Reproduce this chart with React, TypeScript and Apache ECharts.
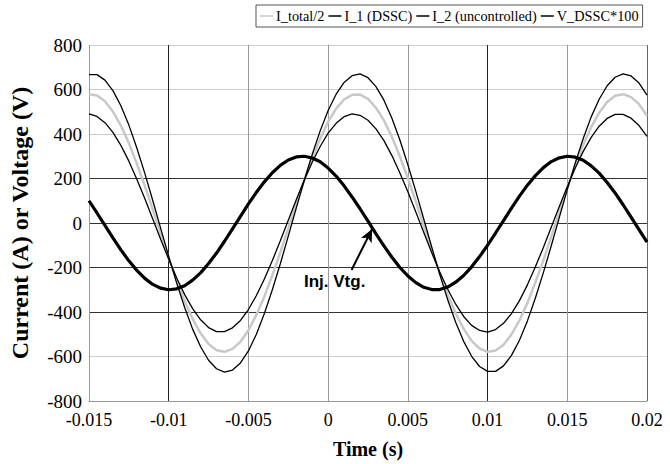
import React, { useEffect, useRef } from 'react';
import * as echarts from 'echarts';

// Time samples (s)
const TIME = [
  -0.015, -0.0145, -0.014, -0.0135, -0.013, -0.0125, -0.012, -0.0115, -0.011, -0.0105,
  -0.01, -0.0095, -0.009, -0.0085, -0.008, -0.0075, -0.007, -0.0065, -0.006, -0.0055,
  -0.005, -0.0045, -0.004, -0.0035, -0.003, -0.0025, -0.002, -0.0015, -0.001, -0.0005,
  0, 0.0005, 0.001, 0.0015, 0.002, 0.0025, 0.003, 0.0035, 0.004, 0.0045,
  0.005, 0.0055, 0.006, 0.0065, 0.007, 0.0075, 0.008, 0.0085, 0.009, 0.0095,
  0.01, 0.0105, 0.011, 0.0115, 0.012, 0.0125, 0.013, 0.0135, 0.014, 0.0145,
  0.015, 0.0155, 0.016, 0.0165, 0.017, 0.0175, 0.018, 0.0185, 0.019, 0.0195,
  0.02,
];

// I_total/2 (A)
const I_TOTAL_HALF = [
  579, 573, 547, 501, 438, 359, 267, 167, 60, -50,
  -157, -259, -351, -431, -496, -544, -572, -579, -566, -534,
  -482, -413, -330, -235, -132, -24, 86, 192, 291, 379,
  455, 514, 555, 576, 577, 558, 518, 461, 387, 299,
  201, 96, -13, -122, -226, -322, -406, -476, -530, -564,
  -579, -573, -547, -501, -438, -359, -267, -167, -60, 50,
  157, 259, 351, 431, 496, 544, 572, 579, 566, 534,
  482,
];

// I_1 (DSSC) (A)
const I_1 = [
  667, 667, 642, 595, 527, 440, 337, 223, 101, -25,
  -150, -270, -380, -477, -556, -617, -655, -670, -661, -629,
  -575, -500, -407, -300, -183, -59, 67, 191, 308, 414,
  506, 579, 632, 662, 670, 653, 613, 552, 471, 373,
  262, 142, 17, -109, -231, -345, -446, -532, -599, -645,
  -667, -667, -642, -595, -527, -440, -337, -223, -101, 25,
  150, 270, 380, 477, 556, 617, 655, 670, 661, 629,
  575,
];

// I_2 (uncontrolled) (A)
const I_2 = [
  490, 479, 451, 407, 349, 278, 197, 110, 18, -74,
  -163, -247, -322, -385, -435, -470, -488, -488, -471, -438,
  -389, -326, -252, -169, -80, 12, 104, 192, 273, 344,
  404, 448, 478, 490, 484, 462, 423, 370, 303, 225,
  140, 49, -43, -134, -220, -298, -365, -420, -460, -483,
  -490, -479, -451, -407, -349, -278, -197, -110, -18, 74,
  163, 247, 322, 385, 435, 470, 488, 488, 471, 438,
  389,
];

// V_DSSC*100 (V)
const V_DSSC = [
  100, 45, -11, -67, -121, -170, -213, -249, -276, -293,
  -300, -296, -282, -257, -224, -182, -135, -82, -26, 30,
  86, 138, 185, 226, 259, 283, 297, 300, 292, 275,
  247, 211, 167, 117, 64, 8, -49, -103, -154, -200,
  -238, -268, -289, -299, -299, -288, -266, -236, -197, -151,
  -100, -45, 11, 67, 121, 170, 213, 249, 276, 293,
  300, 296, 282, 257, 224, 182, 135, 82, 26, -30,
  -86,
];

const SERIES_NAMES = ['I_total/2', 'I_1 (DSSC)', 'I_2 (uncontrolled)', 'V_DSSC*100'];

// Annotation arrow (data coordinates) and text
const ARROW_FROM = [0.00147, -211];
const ARROW_TO = [0.00276, -27];
const ANNOTATION_TEXT = 'Inj. Vtg.';

const X_MIN = -0.015;
const X_MAX = 0.02;
const X_STEP = 0.005;
const Y_MIN = -800;
const Y_MAX = 800;
const Y_STEP = 200;

const pairs = (ys: number[]) => TIME.map((t, i) => [t, ys[i]]);

export default function App() {
  const ref = useRef<HTMLDivElement>(null);
  useEffect(() => {
    if (!ref.current) return;
    const chart = echarts.init(ref.current, null, { renderer: 'svg' });
    const serif = 'Liberation Serif, Times New Roman, serif';
    const lineBase = { showSymbol: false, smooth: false, emphasis: { disabled: true } };
    chart.setOption({
      animation: false,
      backgroundColor: '#fff',
      grid: { left: 86, right: 23, top: 45, bottom: 63, containLabel: false },
      legend: {
        left: 256,
        top: 5,
        width: 410,
        data: SERIES_NAMES,
        icon: 'rect',
        itemWidth: 13,
        itemHeight: 1.5,
        itemGap: 4,
        borderColor: '#555',
        borderWidth: 1,
        padding: [4, 4],
        textStyle: { fontFamily: serif, fontSize: 14.3, color: '#000', padding: [0, 0, 0, -2] },
        selectedMode: false,
      },
      xAxis: {
        type: 'value',
        min: X_MIN,
        max: X_MAX,
        interval: X_STEP,
        name: 'Time (s)',
        nameLocation: 'middle',
        nameGap: 38,
        nameTextStyle: { fontFamily: serif, fontSize: 20, fontWeight: 'bold', color: '#000' },
        axisLine: { show: true, onZero: false, lineStyle: { color: '#999', width: 1 } },
        axisTick: { show: false },
        axisLabel: { fontFamily: serif, fontSize: 18, lineHeight: 18, color: '#000', margin: 10 },
        splitLine: {
          show: true,
          lineStyle: {
            width: 1,
            color: ['#999', '#222', '#999', '#999', '#999', '#222', '#999', '#666'],
          },
        },
      },
      yAxis: {
        type: 'value',
        min: Y_MIN,
        max: Y_MAX,
        interval: Y_STEP,
        name: 'Current (A) or Voltage (V)',
        nameLocation: 'middle',
        nameGap: 57,
        nameTextStyle: { fontFamily: serif, fontSize: 24, fontWeight: 'bold', color: '#000' },
        axisLine: { show: true, lineStyle: { color: '#999', width: 1 } },
        axisTick: { show: false },
        axisLabel: { fontFamily: serif, fontSize: 19, lineHeight: 18, color: '#000', margin: 7 },
        splitLine: {
          show: true,
          lineStyle: {
            width: 1,
            color: ['#999', '#ccc', '#333', '#333', '#333', '#333', '#ccc', '#ccc', '#ccc'],
          },
        },
      },
      series: [
        {
          ...lineBase,
          type: 'line',
          name: SERIES_NAMES[0],
          data: pairs(I_TOTAL_HALF),
          color: '#c8c8c8',
          lineStyle: { color: '#c8c8c8', width: 2.5 },
        },
        {
          ...lineBase,
          type: 'line',
          name: SERIES_NAMES[1],
          data: pairs(I_1),
          color: '#000',
          lineStyle: { color: '#000', width: 1.3 },
        },
        {
          ...lineBase,
          type: 'line',
          name: SERIES_NAMES[2],
          data: pairs(I_2),
          color: '#000',
          lineStyle: { color: '#000', width: 1.3 },
        },
        {
          ...lineBase,
          type: 'line',
          name: SERIES_NAMES[3],
          data: pairs(V_DSSC),
          color: '#000',
          lineStyle: { color: '#000', width: 3.2 },
          markLine: {
            silent: true,
            symbol: ['none', 'arrow'],
            symbolSize: [9, 13],
            lineStyle: { color: '#000', width: 2, type: 'solid' },
            label: { show: false },
            emphasis: { disabled: true },
            data: [[{ coord: ARROW_FROM }, { coord: ARROW_TO }]],
          },
        },
      ],
      graphic: [
        {
          type: 'text',
          left: 304,
          top: 273,
          style: {
            text: ANNOTATION_TEXT,
            fontFamily: 'Liberation Sans, Arial, sans-serif',
            fontWeight: 'bold',
            fontSize: 17,
            fill: '#000',
          },
        },
      ],
    });
    return () => chart.dispose();
  }, []);
  return (
    <div
      ref={ref}
      style={{ position: 'fixed', left: 0, top: 0, width: 670, height: 464, background: '#fff' }}
    />
  );
}
